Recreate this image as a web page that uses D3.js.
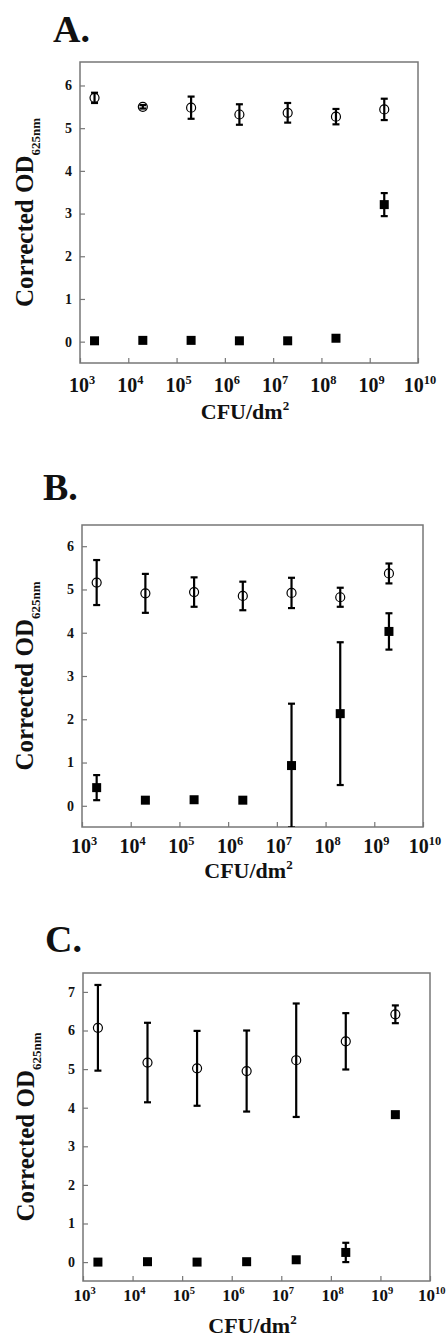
<!DOCTYPE html>
<html>
<head>
<meta charset="utf-8">
<script src="https://cdn.jsdelivr.net/npm/d3@7"></script>
<style>
  body { margin: 0; background: #fff; }
  svg { display: block; }
  text { font-family: "Liberation Serif", "DejaVu Serif", serif; font-weight: bold; fill: #111; }
</style>
</head>
<body>
<div id="chart"></div>
<script>
// x values shared by all three panels
let xVals = [2e3, 2e4, 2e5, 2e6, 2e7, 2e8, 2e9];
let xTickExp = [3, 4, 5, 6, 7, 8, 9, 10];

// panel A
let aOpen = [5.71, 5.50, 5.48, 5.32, 5.36, 5.27, 5.44];
let aOpenErr = [0.12, 0.04, 0.26, 0.24, 0.23, 0.18, 0.25];
let aFilled = [0.02, 0.03, 0.03, 0.02, 0.02, 0.08, 3.21];
let aFilledErr = [0, 0, 0, 0, 0, 0, 0.27];
let aYTicks = [0, 1, 2, 3, 4, 5, 6];

// panel B
let bOpen = [5.16, 4.91, 4.94, 4.85, 4.92, 4.82, 5.37];
let bOpenErr = [0.52, 0.45, 0.34, 0.33, 0.35, 0.22, 0.23];
let bFilled = [0.42, 0.13, 0.14, 0.13, 0.93, 2.13, 4.03];
let bFilledErr = [0.29, 0, 0, 0, 1.43, 1.65, 0.42];
let bYTicks = [0, 1, 2, 3, 4, 5, 6];

// panel C
let cOpen = [6.07, 5.17, 5.02, 4.95, 5.23, 5.72, 6.42];
let cOpenErr = [1.11, 1.03, 0.97, 1.05, 1.47, 0.73, 0.23];
let cFilled = [0.00, 0.01, 0.00, 0.01, 0.06, 0.25, 3.82];
let cFilledErr = [0, 0, 0, 0, 0, 0.25, 0];
let cYTicks = [0, 1, 2, 3, 4, 5, 6, 7];

let svg = d3.select("#chart").append("svg")
  .attr("width", 447)
  .attr("height", 1338);

function createPanel(cfg) {
  let x = d3.scaleLog()
    .domain([1e3, 1e10])
    .range([cfg.left, cfg.right]);

  let y = d3.scaleLinear()
    .domain(cfg.yDomain)
    .range([cfg.bottom, cfg.top]);

  let g = svg.append("g");

  // panel letter
  g.append("text")
    .attr("x", cfg.titleX)
    .attr("y", cfg.titleY)
    .style("font-size", "38px")
    .text(cfg.title);

  // clip so error bars stop at the frame
  let clipId = "clip-" + cfg.title[0];
  g.append("clipPath").attr("id", clipId)
    .append("rect")
    .attr("x", cfg.left).attr("y", cfg.top)
    .attr("width", cfg.right - cfg.left)
    .attr("height", cfg.bottom - cfg.top);

  // y axis, ticks inward
  let yAxis = g.append("g")
    .attr("transform", "translate(" + cfg.left + ",0)")
    .call(d3.axisRight(y).tickValues(cfg.yTicks).tickSize(5).tickFormat(""));
  yAxis.select(".domain").remove();
  yAxis.selectAll("line").attr("stroke", "#777").attr("stroke-width", 1.2);

  g.selectAll(".ylab")
    .data(cfg.yTicks)
    .enter()
    .append("text")
    .attr("x", cfg.left - 8)
    .attr("y", d => y(d))
    .attr("dy", "0.35em")
    .attr("text-anchor", "end")
    .style("font-size", "14px")
    .text(d => d);

  // x axis, ticks inward
  let xAxis = g.append("g")
    .attr("transform", "translate(0," + cfg.bottom + ")")
    .call(d3.axisTop(x).tickValues(xTickExp.map(e => Math.pow(10, e))).tickSize(5).tickFormat(""));
  xAxis.select(".domain").remove();
  xAxis.selectAll("line").attr("stroke", "#777").attr("stroke-width", 1.2);

  let xl = g.selectAll(".xlab")
    .data(xTickExp)
    .enter()
    .append("text")
    .attr("x", d => x(Math.pow(10, d)) + cfg.xLabFont * 0.1)
    .attr("y", cfg.xLabY)
    .attr("text-anchor", "middle")
    .style("font-size", cfg.xLabFont + "px");
  xl.append("tspan").text("10");
  xl.append("tspan")
    .attr("dy", -cfg.xLabFont * 0.42)
    .style("font-size", (cfg.xLabFont * 0.62) + "px")
    .text(d => d);

  // frame
  g.append("rect")
    .attr("x", cfg.left)
    .attr("y", cfg.top)
    .attr("width", cfg.right - cfg.left)
    .attr("height", cfg.bottom - cfg.top)
    .attr("fill", "none")
    .attr("stroke", "#777")
    .attr("stroke-width", 1.5);

  // axis titles
  let xt = g.append("text")
    .attr("x", (cfg.left + cfg.right) / 2 - 4)
    .attr("y", cfg.xTitleY)
    .attr("text-anchor", "middle")
    .style("font-size", "22px");
  xt.append("tspan").text("CFU/dm");
  xt.append("tspan").attr("dy", -9).style("font-size", "13px").text("2");

  let yt = g.append("text")
    .attr("transform", "translate(" + cfg.yTitleX + "," + ((cfg.top + cfg.bottom) / 2) + ") rotate(-90)")
    .attr("text-anchor", "middle")
    .style("font-size", "25px");
  yt.append("tspan").text("Corrected OD");
  yt.append("tspan").attr("dy", 7).style("font-size", "13px").text("625nm");

  let data = xVals.map((v, i) => ({
    x: v,
    open: cfg.open[i], openErr: cfg.openErr[i],
    filled: cfg.filled[i], filledErr: cfg.filledErr[i]
  }));

  let marks = g.append("g").attr("clip-path", "url(#" + clipId + ")");
  let cap = 3.5;

  function errorBars(key, errKey) {
    let eb = marks.selectAll(".eb-" + key)
      .data(data.filter(d => d[errKey] > 0))
      .enter()
      .append("g")
      .attr("stroke", "#000")
      .attr("stroke-width", 2.2);
    eb.append("line")
      .attr("x1", d => x(d.x)).attr("x2", d => x(d.x))
      .attr("y1", d => y(d[key] - d[errKey]))
      .attr("y2", d => y(d[key] + d[errKey]));
    eb.append("line")
      .attr("x1", d => x(d.x) - cap).attr("x2", d => x(d.x) + cap)
      .attr("y1", d => y(d[key] + d[errKey])).attr("y2", d => y(d[key] + d[errKey]));
    eb.append("line")
      .attr("x1", d => x(d.x) - cap).attr("x2", d => x(d.x) + cap)
      .attr("y1", d => y(d[key] - d[errKey])).attr("y2", d => y(d[key] - d[errKey]));
  }

  errorBars("open", "openErr");
  errorBars("filled", "filledErr");

  marks.selectAll(".circ")
    .data(data)
    .enter()
    .append("circle")
    .attr("cx", d => x(d.x))
    .attr("cy", d => y(d.open))
    .attr("r", 4.5)
    .attr("fill", "none")
    .attr("stroke", "#000")
    .attr("stroke-width", 1.2);

  let s = 9;
  marks.selectAll(".sq")
    .data(data)
    .enter()
    .append("rect")
    .attr("x", d => x(d.x) - s / 2)
    .attr("y", d => y(d.filled) - s / 2)
    .attr("width", s)
    .attr("height", s)
    .attr("fill", "#000");
}

createPanel({
  title: "A.", titleX: 53, titleY: 42,
  left: 80, right: 418, top: 62, bottom: 363, yDomain: [-0.5, 6.55],
  yTicks: aYTicks, xLabY: 392, xLabFont: 20, xTitleY: 419, yTitleX: 33,
  open: aOpen, openErr: aOpenErr, filled: aFilled, filledErr: aFilledErr
});

createPanel({
  title: "B.", titleX: 43, titleY: 500,
  left: 82, right: 423, top: 525, bottom: 827, yDomain: [-0.49, 6.49],
  yTicks: bYTicks, xLabY: 853, xLabFont: 20, xTitleY: 878, yTitleX: 33,
  open: bOpen, openErr: bOpenErr, filled: bFilled, filledErr: bFilledErr
});

createPanel({
  title: "C.", titleX: 45, titleY: 952,
  left: 83, right: 430, top: 973, bottom: 1281, yDomain: [-0.49, 7.49],
  yTicks: cYTicks, xLabY: 1301, xLabFont: 17, xTitleY: 1333, yTitleX: 34,
  open: cOpen, openErr: cOpenErr, filled: cFilled, filledErr: cFilledErr
});
</script>
</body>
</html>
